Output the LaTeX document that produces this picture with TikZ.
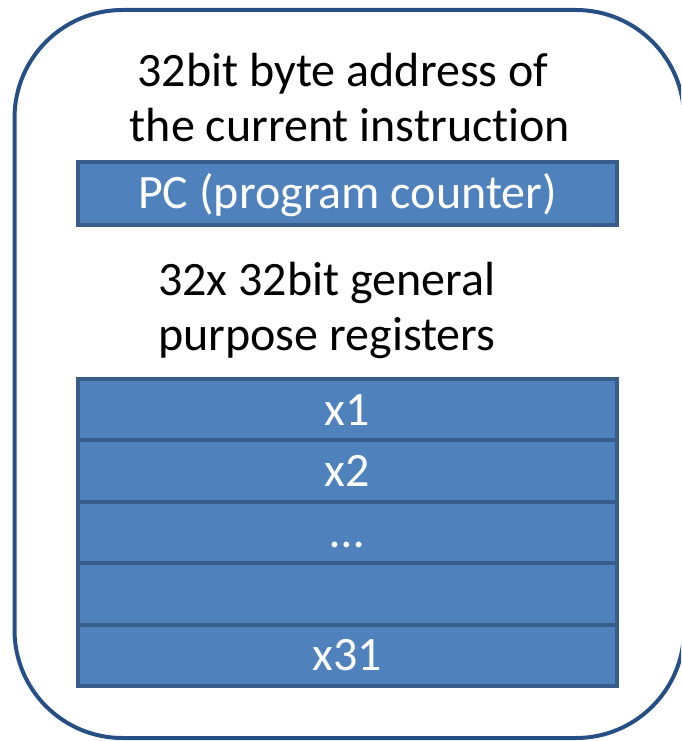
\documentclass[tikz,border=0pt]{standalone}
\usepackage{fontspec}
\setmainfont{Carlito}[Ligatures={NoCommon}]
\definecolor{outerblue}{HTML}{264F86}
\definecolor{boxfill}{HTML}{4F81BD}
\definecolor{boxline}{HTML}{385D8A}
\begin{document}
\begin{tikzpicture}[x=1pt,y=-1pt,
  regbox/.style={draw=boxline, fill=boxfill, line width=4pt, minimum width=539pt,
    inner sep=0pt, outer sep=0pt, text=white, anchor=north west,
    font=\fontsize{48}{58}\selectfont, text height=46pt},
  lbl/.style={inner sep=0pt, anchor=base, font=\fontsize{48}{58}\selectfont}]
\useasboundingbox (0,0) rectangle (681,741);
\clip (0,0) rectangle (681,741);
\draw[outerblue, line width=4pt, rounded corners=108pt] (14.5,10) rectangle (684,738);
\node[lbl] (t1) at (343,87) {32bit byte address of};
\node[lbl] (t2) at (350,142) {the current instruction};
\node[regbox, minimum height=63pt, text depth=17pt] (pc) at (78,162) {PC (program counter)};
\node[lbl, anchor=base west] (g1) at (158,295) {32x 32bit general};
\node[lbl, anchor=base west] (g2) at (158,350) {purpose registers};
\node[regbox, minimum height=61.4pt, text depth=15.4pt] (r1) at (78,379) {x1};
\node[regbox, minimum height=61.4pt, text depth=15.4pt] (r2) at (78,440.4) {x2};
\node[regbox, minimum height=61.4pt, text depth=15.4pt] (r3) at (78,501.8) {…};
\node[regbox, minimum height=61.4pt, text depth=15.4pt] (r4) at (78,563.2) {};
\node[regbox, minimum height=61.4pt, text depth=15.4pt] (r5) at (78,624.6) {x31};
\end{tikzpicture}
\end{document}
